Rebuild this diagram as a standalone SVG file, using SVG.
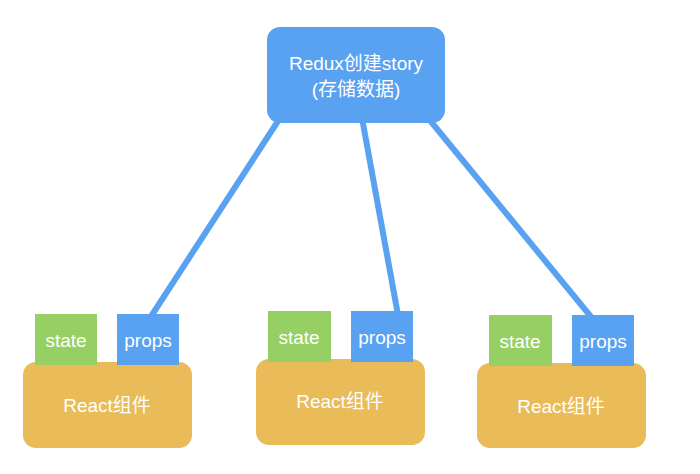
<svg xmlns="http://www.w3.org/2000/svg" width="700" height="474" viewBox="0 0 700 474">
<style>
.t{font-family:"Liberation Sans","Noto Sans CJK SC",sans-serif;font-size:19px;fill:#fff;text-anchor:middle}
.blue{fill:#59a1f1}
.green{fill:#96d064}
.orange{fill:#e9bb59}
.conn{stroke:#59a1f1;stroke-width:6;fill:none}
</style>
<rect width="700" height="474" fill="#fff"/>
<g id="connectors">
<line class="conn" x1="280" y1="118" x2="150" y2="318"/>
<line class="conn" x1="362" y1="118" x2="398" y2="315"/>
<line class="conn" x1="428" y1="118" x2="592" y2="318"/>
</g>
<g id="redux">
<rect class="blue" x="267" y="27" width="178" height="96" rx="13"/>
<text class="t" x="356" y="70">Redux创建story</text>
<text class="t" x="356" y="96">(存储数据)</text>
</g>
<g id="react1">
<rect class="orange" x="23" y="362" width="169" height="86" rx="13"/>
<text class="t" x="107" y="412">React组件</text>
</g>
<g id="state1"><rect class="green" x="35" y="314" width="62" height="51"/><text class="t" x="66" y="347">state</text></g>
<g id="props1"><rect class="blue" x="117" y="314" width="62" height="51"/><text class="t" x="148" y="347">props</text></g>
<g id="react2">
<rect class="orange" x="256" y="359" width="169" height="86" rx="13"/>
<text class="t" x="340" y="408">React组件</text>
</g>
<g id="state2"><rect class="green" x="268" y="311" width="63" height="51"/><text class="t" x="299" y="344">state</text></g>
<g id="props2"><rect class="blue" x="351" y="311" width="62" height="51"/><text class="t" x="382" y="344">props</text></g>
<g id="react3">
<rect class="orange" x="477" y="363" width="169" height="85" rx="13"/>
<text class="t" x="561" y="413">React组件</text>
</g>
<g id="state3"><rect class="green" x="489" y="315" width="63" height="51"/><text class="t" x="520" y="348">state</text></g>
<g id="props3"><rect class="blue" x="572" y="315" width="62" height="51"/><text class="t" x="603" y="348">props</text></g>
</svg>
